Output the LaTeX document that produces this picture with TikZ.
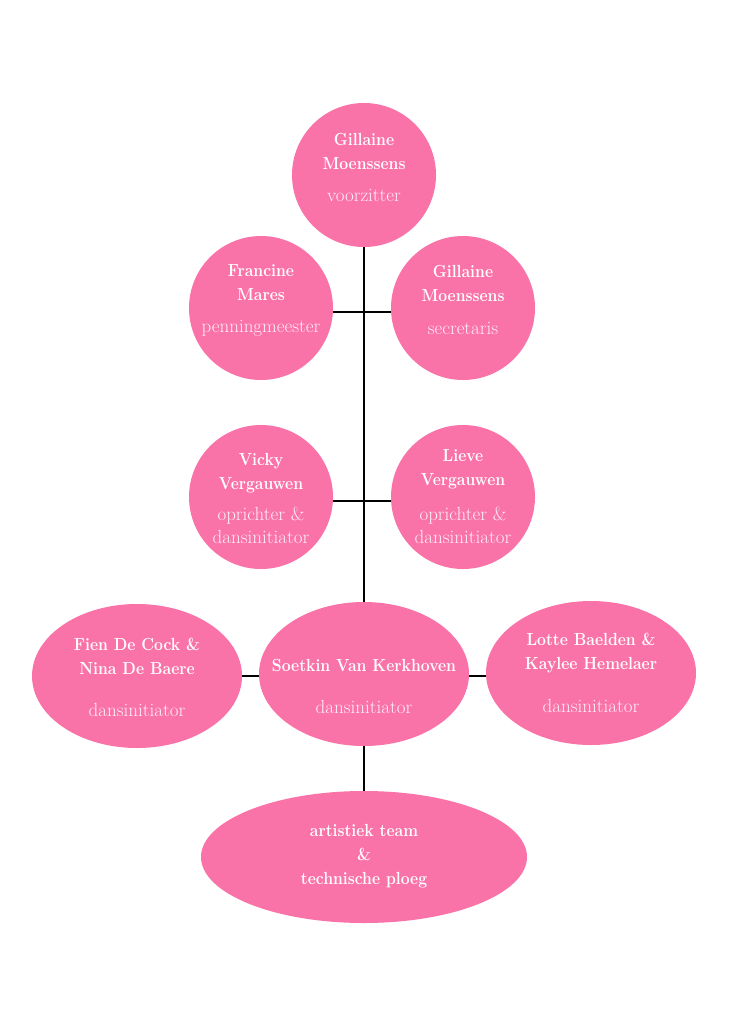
\documentclass[tikz,border=0pt]{standalone}
\usepackage{fontspec}
\newfontfamily\nmfont{Latin Modern Roman}[FakeStretch=0.9]
\usetikzlibrary{shapes.geometric}
\definecolor{rose}{RGB}{250,115,168}
\definecolor{pale}{RGB}{255,238,245}
\begin{document}
\begin{tikzpicture}[x=1pt,y=-1pt,
  bub/.style={circle,fill=rose,draw=none,minimum size=144pt,inner sep=0pt},
  ell/.style={ellipse,fill=rose,draw=none,minimum width=#1,minimum height=144pt,inner sep=0pt},
  nm/.style={text=white,font=\nmfont\fontsize{17.5}{20}\selectfont\bfseries,align=center,inner sep=0pt},
  rl/.style={text=pale,font=\fontsize{19}{23}\selectfont,align=center,inner sep=0pt},
  link/.style={draw=black,line width=1.3pt}]
\useasboundingbox (0,0) rectangle (728,1030);
\fill[white] (0,0) rectangle (728,1030);
% shapes
\node[bub] (top) at (364,175) {};
\node[bub] (fra) at (261,308) {};
\node[bub] (sec) at (463,308) {};
\node[bub] (vic) at (261,497) {};
\node[bub] (lie) at (463,497) {};
\node[ell=210pt] (fie) at (137,676) {};
\node[ell=210pt] (soe) at (364,674) {};
\node[ell=210pt] (lot) at (591,673) {};
\node[ellipse,fill=rose,minimum width=326pt,minimum height=132pt,inner sep=0pt] (art) at (364,857) {};
% connectors
\coordinate (j1) at (364,312);
\coordinate (j2) at (364,501);
\coordinate (j3) at (364,676);
\draw[link] (top.south) -- (soe.north);
\draw[link] (fra.east |- j1) -- (sec.west |- j1);
\draw[link] (vic.east |- j2) -- (lie.west |- j2);
\draw[link] (fie.east |- j3) -- (soe.west |- j3);
\draw[link] (soe.east |- j3) -- (lot.west |- j3);
\draw[link] (soe.south) -- (art.north);
% texts
\node[nm] (t1) at (364,151) {Gillaine\\[4pt]Moenssens};
\node[rl] (r1) at (364,195) {voorzitter};
\node[nm] (t2) at (261,283) {Francine\\[4pt]Mares};
\node[rl] (r2) at (261,328) {penningmeester};
\node[nm] (t3) at (463,283) {Gillaine\\[4pt]Moenssens};
\node[rl] (r3) at (463,328) {secretaris};
\node[nm] (t4) at (261,473) {Vicky\\[4pt]Vergauwen};
\node[rl] (r4) at (261,525) {oprichter \&\\dansinitiator};
\node[nm] (t5) at (463,469) {Lieve\\[4pt]Vergauwen};
\node[rl] (r5) at (463,525) {oprichter \&\\dansinitiator};
\node[nm] (t6) at (137,656) {Fien De Cock \&\\[4pt]Nina De Baere};
\node[rl] (r6) at (137,710) {dansinitiator};
\node[nm] (t7) at (364,665) {Soetkin Van Kerkhoven};
\node[rl] (r7) at (364,707) {dansinitiator};
\node[nm] (t8) at (591,653) {Lotte Baelden \&\\[4pt]Kaylee Hemelaer};
\node[rl] (r8) at (591,706) {dansinitiator};
\node[nm] (t9) at (364,856) {artistiek team\\[4pt]\&\\[4pt]technische ploeg};
\end{tikzpicture}
\end{document}
